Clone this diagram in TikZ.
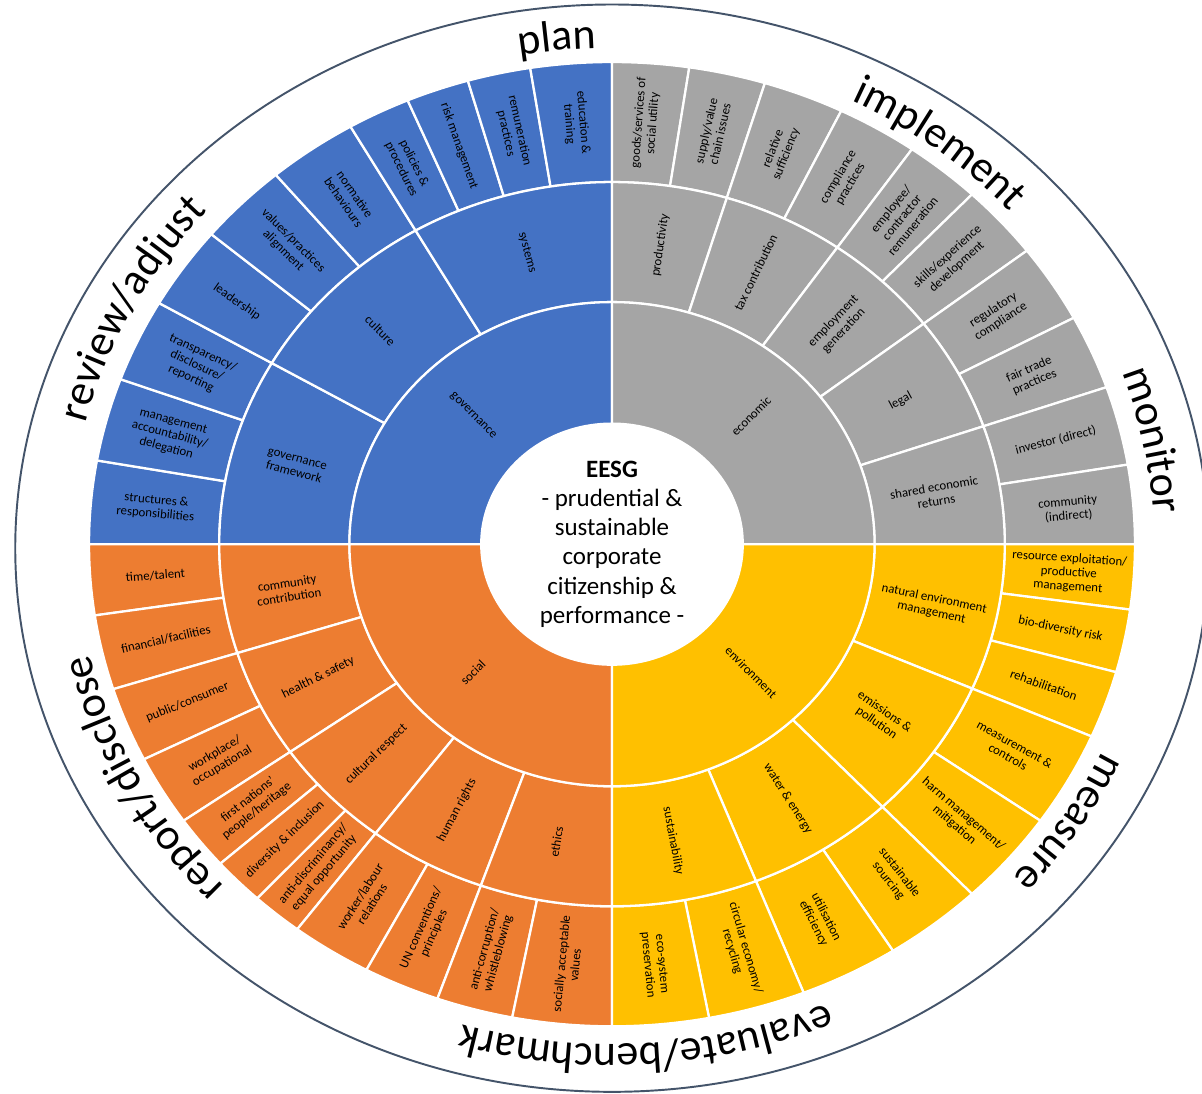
\documentclass[tikz,border=0pt]{standalone}
\usepackage{fontspec}
\setmainfont{Carlito}
\usetikzlibrary{decorations.text}

\definecolor{govblue}{HTML}{4472C4}
\definecolor{ecogray}{HTML}{A5A5A5}
\definecolor{socorange}{HTML}{ED7D31}
\definecolor{envgold}{HTML}{FFC000}
\definecolor{ringline}{HTML}{44546A}

\begin{document}
\begin{tikzpicture}[x=0.0217cm,y=0.02cm,
    seg/.style={fill=#1,draw=white,line width=1.3pt},
    lbl/.style={font=\fontsize{7.3}{8}\selectfont,align=center,inner sep=0pt},
    core/.style={font=\fontsize{14.2}{16.6}\selectfont,align=center,inner sep=0pt},
    stage/.style={decorate,decoration={text along path,text align=center,text={|\stagefont|#1}}}]
    \pgfmathsetmacro{\rcore}{120.5}
    \pgfmathsetmacro{\rone}{242}
    \pgfmathsetmacro{\rtwo}{362}
    \pgfmathsetmacro{\rthree}{482}
    \providecommand{\stagefont}{\fontsize{25}{30}\selectfont}
    \providecommand{\ringcell}[7]{%
        \path[seg=#5] (#1:#3) arc[start angle=#1,end angle=#2,radius=#3]
            -- (#2:#4) arc[start angle=#2,end angle=#1,radius=#4] -- cycle;
        \pgfmathsetmacro{\midang}{(#1+#2)/2}
        \pgfmathsetmacro{\midrad}{(#3+#4)/2}
        \pgfmathsetmacro{\tilt}{cos(\midang)>0 ? \midang : \midang-180}
        \node[lbl,rotate=\tilt] (#6) at (\midang:\midrad) {#7};
    }
    \useasboundingbox (-564.06,-549) rectangle (543.78,544);

    % outer ring of actions
    \draw[ringline,line width=1.1pt] (0,-4) ellipse[x radius=550,y radius=543.5];

    % governance
    \foreach \angA/\angB/\txt [count=\i] in {170/180/{structures \&\\responsibilities},
        160/170/{management\\accountability/\\delegation}, 150/160/{transparency/\\disclosure/\\reporting},
        140/150/{leadership}, 130/140/{values/practices\\alignment}, 120/130/{normative\\behaviours},
        113/120/{policies \&\\procedures}, 106/113/{risk management}, 99/106/{remuneration\\practices},
        90/99/{education \&\\training}}
        {\ringcell{\angA}{\angB}{\rtwo}{\rthree}{govblue}{gov3-\i}{\txt}}
    \foreach \angA/\angB/\txt [count=\i] in {150/180/{governance\\framework}, 120/150/{culture}, 90/120/{systems}}
        {\ringcell{\angA}{\angB}{\rone}{\rtwo}{govblue}{gov2-\i}{\txt}}
    \ringcell{90}{180}{\rcore}{\rone}{govblue}{gov1}{governance}

    % economic
    \foreach \angA/\angB/\txt [count=\i] in {81.5/90/{goods/services of\\social utility},
        73/81.5/{supply/value\\chain issues}, 64/73/{relative\\sufficiency}, 55/64/{compliance\\practices},
        46.5/55/{employee/\\contractor\\remuneration}, 37.5/46.5/{skills/experience\\development},
        28/37.5/{regulatory\\compliance}, 19/28/{fair trade\\practices}, 9.5/19/{investor (direct)},
        0/9.5/{community\\(indirect)}}
        {\ringcell{\angA}{\angB}{\rtwo}{\rthree}{ecogray}{eco3-\i}{\txt}}
    \foreach \angA/\angB/\txt [count=\i] in {73/90/{productivity}, 55/73/{tax contribution},
        37.5/55/{employment\\generation}, 19/37.5/{legal}, 0/19/{shared economic\\returns}}
        {\ringcell{\angA}{\angB}{\rone}{\rtwo}{ecogray}{eco2-\i}{\txt}}
    \ringcell{0}{90}{\rcore}{\rone}{ecogray}{eco1}{economic}

    % social
    \foreach \angA/\angB/\txt [count=\i] in {180/188.5/{time/talent}, 188.5/197.5/{financial/facilities},
        197.5/206.5/{public/consumer}, 206.5/215/{workplace/\\occupational},
        215/221.5/{first nations'\\people/heritage}, 221.5/227.3/{diversity \& inclusion},
        227.3/233/{anti-discriminancy/\\equal opportunity}, 233/242/{worker/labour\\relations},
        242/250.5/{UN conventions/\\principles}, 250.5/259/{anti-corruption/\\whistleblowing},
        259/270/{socially acceptable\\values}}
        {\ringcell{\angA}{\angB}{\rtwo}{\rthree}{socorange}{soc3-\i}{\txt}}
    \foreach \angA/\angB/\txt [count=\i] in {180/197.5/{community\\contribution}, 197.5/215/{health \& safety},
        215/233/{cultural respect}, 233/250.5/{human rights}, 250.5/270/{ethics}}
        {\ringcell{\angA}{\angB}{\rone}{\rtwo}{socorange}{soc2-\i}{\txt}}
    \ringcell{180}{270}{\rcore}{\rone}{socorange}{soc1}{social}

    % environment
    \foreach \angA/\angB/\txt [count=\i] in {352.2/360/{resource exploitation/\\productive\\management},
        344.6/352.2/{bio-diversity risk}, 336.5/344.6/{rehabilitation}, 325/336.5/{measurement \&\\controls},
        313.5/325/{harm management/\\mitigation}, 302.5/313.5/{sustainable\\sourcing},
        291.5/302.5/{utilisation\\efficiency}, 280.7/291.5/{circular economy/\\recycling},
        270/280.7/{eco-system\\preservation}}
        {\ringcell{\angA}{\angB}{\rtwo}{\rthree}{envgold}{env3-\i}{\txt}}
    \foreach \angA/\angB/\txt [count=\i] in {336.5/360/{natural environment\\management},
        313.5/336.5/{emissions \&\\pollution}, 291.5/313.5/{water \& energy}, 270/291.5/{sustainability}}
        {\ringcell{\angA}{\angB}{\rone}{\rtwo}{envgold}{env2-\i}{\txt}}
    \ringcell{270}{360}{\rcore}{\rone}{envgold}{env1}{environment}

    \node[core] (eesg) at (0,0) {\textbf{EESG}\\- prudential \&\\sustainable\\corporate\\citizenship \&\\performance -};

    % stages
    \path[stage=plan] (141:496) arc[start angle=141,end angle=51,radius=496];
    \path[stage=implement] (96.8:495) arc[start angle=96.8,end angle=6.8,radius=495];
    \path[stage=monitor] (56.3:500) arc[start angle=56.3,end angle=-33.7,radius=500];
    \path[stage=measure] (12.7:497) arc[start angle=12.7,end angle=-77.3,radius=497];
    \path[stage={evaluate/benchmark}] (-36.2:500) arc[start angle=-36.2,end angle=-136.2,radius=500];
    \path[stage={report/disclose}] (252.5:494) arc[start angle=252.5,end angle=162.5,radius=494];
    \path[stage={review/adjust}] (198:500) arc[start angle=198,end angle=108,radius=500];
\end{tikzpicture}
\end{document}
